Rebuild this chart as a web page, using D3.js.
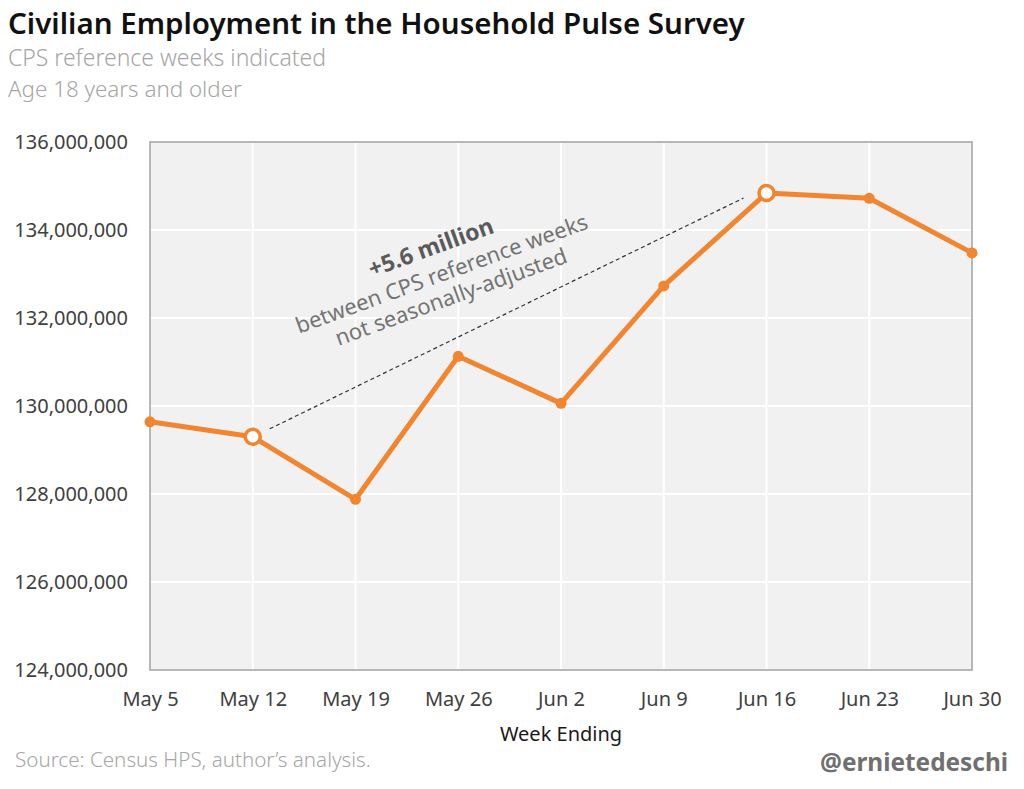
<!DOCTYPE html>
<html>
<head>
<meta charset="utf-8">
<script src="https://cdnjs.cloudflare.com/ajax/libs/d3/7.8.5/d3.min.js"></script>
<style>
  body { margin: 0; background: #fff; }
  svg { display: block; font-family: "Noto Sans", "Open Sans", sans-serif; }
</style>
</head>
<body>
<svg width="1024" height="789"></svg>
<script>
// week ending dates and employment (persons, 18+)
var weeks = ["May 5", "May 12", "May 19", "May 26", "Jun 2", "Jun 9", "Jun 16", "Jun 23", "Jun 30"];
var employed = [129640000, 129300000, 127880000, 131130000, 130060000, 132730000, 134840000, 134720000, 133480000];
var cpsWeeks = ["May 12", "Jun 16"];
var yTicks = [124000000, 126000000, 128000000, 130000000, 132000000, 134000000, 136000000];

var svg = d3.select("svg"),
    margin = {top: 142, right: 52, bottom: 119, left: 150},
    width = +svg.attr("width"),
    height = +svg.attr("height");

var orange = "#f28530";

var x = d3.scalePoint()
    .domain(weeks)
    .range([margin.left, width - margin.right]);

var y = d3.scaleLinear()
    .domain([124000000, 136000000])
    .range([height - margin.bottom, margin.top]);

var data = weeks.map(function(w, i) { return {week: w, value: employed[i], cps: cpsWeeks.indexOf(w) >= 0}; });

// plot background
svg.append("rect")
    .attr("x", margin.left)
    .attr("y", margin.top)
    .attr("width", width - margin.left - margin.right)
    .attr("height", height - margin.top - margin.bottom)
    .attr("fill", "#f1f1f1");

// grid
var grid = svg.append("g").attr("stroke", "#fff").attr("stroke-width", 2);
grid.selectAll(".vg")
    .data(weeks)
  .enter().append("line")
    .attr("x1", function(d) { return x(d); })
    .attr("x2", function(d) { return x(d); })
    .attr("y1", margin.top)
    .attr("y2", height - margin.bottom);
grid.selectAll(".hg")
    .data(yTicks)
  .enter().append("line")
    .attr("x1", margin.left)
    .attr("x2", width - margin.right)
    .attr("y1", function(d) { return y(d); })
    .attr("y2", function(d) { return y(d); });

// frame
svg.append("rect")
    .attr("x", margin.left)
    .attr("y", margin.top)
    .attr("width", width - margin.left - margin.right)
    .attr("height", height - margin.top - margin.bottom)
    .attr("fill", "none")
    .attr("stroke", "#a0a0a0")
    .attr("stroke-width", 1.5);

// axes
var yAxis = svg.append("g")
    .attr("transform", "translate(" + margin.left + ",0)")
    .call(d3.axisLeft(y).tickValues(yTicks).tickSize(0).tickPadding(22).tickFormat(d3.format(",")));
yAxis.select(".domain").remove();
yAxis.selectAll("text")
    .attr("fill", "#404040")
    .style("font-size", "20px")
    .style("font-family", "'Noto Sans', sans-serif");

var xAxis = svg.append("g")
    .attr("transform", "translate(0," + (height - margin.bottom) + ")")
    .call(d3.axisBottom(x).tickSize(0).tickPadding(22));
xAxis.select(".domain").remove();
xAxis.selectAll("text")
    .attr("fill", "#404040")
    .style("font-size", "20px")
    .style("font-family", "'Noto Sans', sans-serif");

// annotation: dashed connector between the two CPS reference weeks
var a = data[weeks.indexOf(cpsWeeks[0])], b = data[weeks.indexOf(cpsWeeks[1])];
svg.append("line")
    .attr("x1", x(a.week) + 17)
    .attr("y1", y(a.value) - 8)
    .attr("x2", x(b.week) - 23)
    .attr("y2", y(b.value) + 5)
    .attr("stroke", "#333")
    .attr("stroke-width", 1.2)
    .attr("stroke-dasharray", "4,3");

var note = svg.append("g")
    .attr("transform", "translate(" + ((x(a.week) + x(b.week)) / 2 - 76) + "," + ((y(a.value) + y(b.value)) / 2 - 60) + ") rotate(-20)")
    .attr("text-anchor", "middle");
note.append("text")
    .attr("y", 0)
    .attr("fill", "#5a5a5a")
    .style("font-size", "23px")
    .style("font-weight", "bold")
    .text("+5.6 million");
note.append("text")
    .attr("x", 1)
    .attr("y", 28)
    .attr("fill", "#747474")
    .style("font-size", "22px")
    .text("between CPS reference weeks");
note.append("text")
    .attr("x", 2)
    .attr("y", 53)
    .attr("fill", "#747474")
    .style("font-size", "22px")
    .text("not seasonally-adjusted");

// series
var line = d3.line()
    .x(function(d) { return x(d.week); })
    .y(function(d) { return y(d.value); });

svg.append("path")
    .datum(data)
    .attr("fill", "none")
    .attr("stroke", orange)
    .attr("stroke-width", 5)
    .attr("stroke-linejoin", "round")
    .attr("d", line);

svg.selectAll(".pt")
    .data(data)
  .enter().append("circle")
    .attr("cx", function(d) { return x(d.week); })
    .attr("cy", function(d) { return y(d.value); })
    .attr("r", function(d) { return d.cps ? 7.5 : 5.5; })
    .attr("fill", function(d) { return d.cps ? "#fff" : orange; })
    .attr("stroke", orange)
    .attr("stroke-width", function(d) { return d.cps ? 3.5 : 0; });

// titles and labels
function fit(sel, w) {
  var n = sel.node(), len = n.getComputedTextLength(), fs = parseFloat(sel.style("font-size"));
  sel.style("font-size", (fs * w / len) + "px");
}

var title = svg.append("text")
    .attr("x", 8).attr("y", 34)
    .attr("fill", "#111")
    .style("font-size", "28px")
    .style("font-weight", "600")
    .text("Civilian Employment in the Household Pulse Survey");
fit(title, 737);

var sub1 = svg.append("text")
    .attr("x", 8).attr("y", 66)
    .attr("fill", "#a6a6a6")
    .style("font-size", "22px")
    .style("font-weight", "300")
    .text("CPS reference weeks indicated");
fit(sub1, 318);

var sub2 = svg.append("text")
    .attr("x", 8).attr("y", 97)
    .attr("fill", "#a6a6a6")
    .style("font-size", "22px")
    .style("font-weight", "300")
    .text("Age 18 years and older");
fit(sub2, 234);

svg.append("text")
    .attr("x", (margin.left + width - margin.right) / 2)
    .attr("y", 741)
    .attr("text-anchor", "middle")
    .attr("fill", "#1a1a1a")
    .style("font-size", "20px")
    .text("Week Ending");

var src = svg.append("text")
    .attr("x", 15).attr("y", 767)
    .attr("fill", "#a6a6a6")
    .style("font-size", "19px")
    .style("font-weight", "300")
    .text("Source: Census HPS, author\u2019s analysis.");
fit(src, 356);

var handle = svg.append("text")
    .attr("x", 1008).attr("y", 771)
    .attr("text-anchor", "end")
    .attr("fill", "#707070")
    .style("font-size", "23px")
    .style("font-weight", "bold")
    .text("@ernietedeschi");
fit(handle, 188);
</script>
</body>
</html>
